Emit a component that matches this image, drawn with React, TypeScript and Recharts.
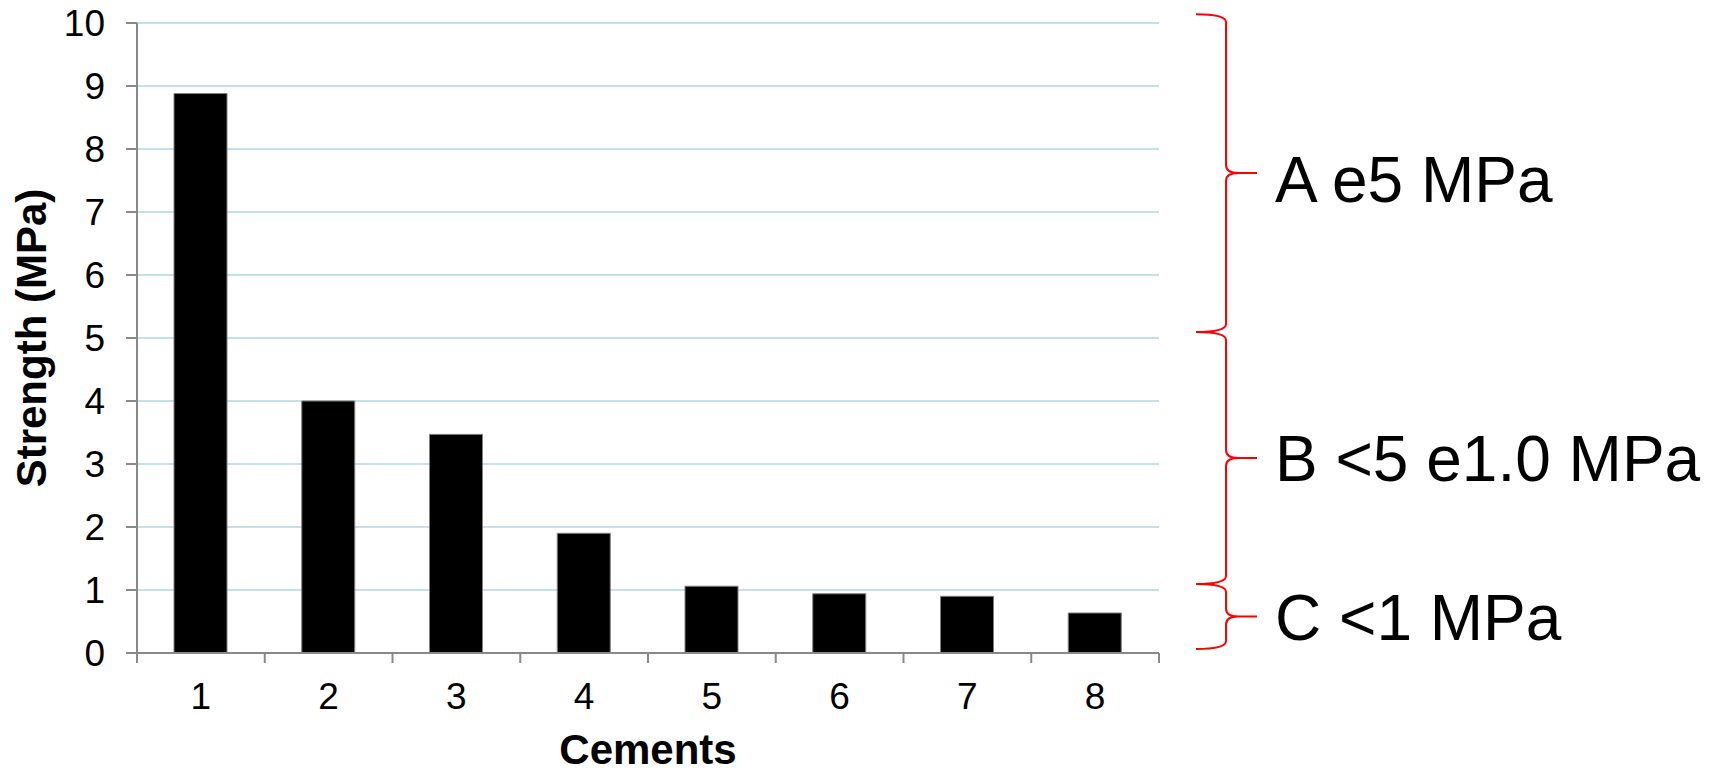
import React from 'react';
import { BarChart, Bar, XAxis, YAxis, CartesianGrid, Label } from 'recharts';

const categories = ['1', '2', '3', '4', '5', '6', '7', '8'];
const strength = [8.88, 4.0, 3.47, 1.9, 1.06, 0.94, 0.9, 0.635];
const yTicks = [0, 1, 2, 3, 4, 5, 6, 7, 8, 9, 10];

// class brackets drawn to the right of the plot (value ranges in MPa)
const classLabels = ['A e5 MPa', 'B <5 e1.0 MPa', 'C <1 MPa'];
const classFrom = [10.14, 5.095, 1.095];
const classTo = [5.095, 1.095, 0.063];

const W = 1715;
const H = 768;
const PLOT_LEFT = 137;
const PLOT_RIGHT = 1159;
const PLOT_TOP = 23;
const PLOT_BOTTOM = 653;
const PLOT_H = PLOT_BOTTOM - PLOT_TOP;
const BAND = (PLOT_RIGHT - PLOT_LEFT) / categories.length;

const AXIS = '#898989';
const GRID = '#c2e2e8';
const FONT = '"Liberation Sans", Arial, sans-serif';
// small vertical nudge of each class label relative to its bracket tip
const LABEL_NUDGE = [29, 23, 23];

const data = categories.map((c, i) => ({ cement: c, strength: strength[i] }));

const yPx = (v: number) => PLOT_BOTTOM - (v / 10) * PLOT_H;

function CementTick(props: any) {
  const { x, payload, index } = props;
  const half = BAND / 2;
  return (
    <g>
      <line x1={x - half} x2={x - half} y1={PLOT_BOTTOM} y2={PLOT_BOTTOM + 10} stroke={AXIS} strokeWidth={2} />
      {index === categories.length - 1 && (
        <line x1={x + half} x2={x + half} y1={PLOT_BOTTOM} y2={PLOT_BOTTOM + 10} stroke={AXIS} strokeWidth={2} />
      )}
      <text x={x} y={PLOT_BOTTOM + 30} dy="0.71em" textAnchor="middle" fontSize={37} fill="#000" fontFamily={FONT}>
        {payload.value}
      </text>
    </g>
  );
}

function bracePath(y1: number, y2: number) {
  const xL = 1196;
  const xV = 1226;
  const xT = 1257;
  const r = 8;
  const k = 12;
  const tip = (y1 + y2) / 2;
  return [
    `M ${xL} ${y1} Q ${xV} ${y1} ${xV} ${y1 + r}`,
    `L ${xV} ${tip - r} Q ${xV} ${tip} ${xV + k} ${tip} L ${xT} ${tip}`,
    `M ${xV + k} ${tip} Q ${xV} ${tip} ${xV} ${tip + r}`,
    `L ${xV} ${y2 - r} Q ${xV} ${y2} ${xL} ${y2}`,
  ].join(' ');
}

export default function App() {
  return (
    <div style={{ position: 'absolute', left: 0, top: 0, width: W, height: H, background: '#fff', fontFamily: FONT }}>
      <BarChart
        width={W}
        height={H}
        data={data}
        margin={{ top: PLOT_TOP, right: W - PLOT_RIGHT, bottom: 0, left: 0 }}
      >
        <CartesianGrid vertical={false} stroke={GRID} strokeWidth={2} />
        <XAxis
          dataKey="cement"
          height={H - PLOT_BOTTOM}
          interval={0}
          tickLine={false}
          axisLine={{ stroke: AXIS, strokeWidth: 2 }}
          tick={<CementTick />}
        >
          <Label
            value="Cements"
            position="insideBottom"
            offset={4}
            style={{ fontSize: 42, fontWeight: 'bold', fill: '#000', fontFamily: FONT }}
          />
        </XAxis>
        <YAxis
          width={PLOT_LEFT}
          domain={[0, 10]}
          ticks={yTicks}
          interval={0}
          tickSize={11}
          tickMargin={21}
          axisLine={{ stroke: AXIS, strokeWidth: 2 }}
          tickLine={{ stroke: AXIS, strokeWidth: 2 }}
          tick={{ fill: '#000', fontSize: 37, fontFamily: FONT }}
        >
          <Label
            value="Strength (MPa)"
            angle={-90}
            position="insideLeft"
            offset={31}
            style={{ fontSize: 42, fontWeight: 'bold', fill: '#000', textAnchor: 'middle', fontFamily: FONT }}
          />
        </YAxis>
        <Bar dataKey="strength" fill="#000" stroke="#7f7f7f" strokeWidth={1} barSize={53} isAnimationActive={false} />
      </BarChart>
      <svg width={W} height={H} style={{ position: 'absolute', left: 0, top: 0, pointerEvents: 'none' }}>
        {classLabels.map((lab, i) => {
          const y1 = yPx(classFrom[i]);
          const y2 = yPx(classTo[i]);
          const tip = (y1 + y2) / 2;
          return (
            <g key={lab}>
              <path d={bracePath(y1, y2)} fill="none" stroke="#ff0000" strokeWidth={2} />
              <text x={1275} y={tip + LABEL_NUDGE[i]} fontSize={64} fill="#000" fontFamily={FONT}>
                {lab}
              </text>
            </g>
          );
        })}
      </svg>
    </div>
  );
}
